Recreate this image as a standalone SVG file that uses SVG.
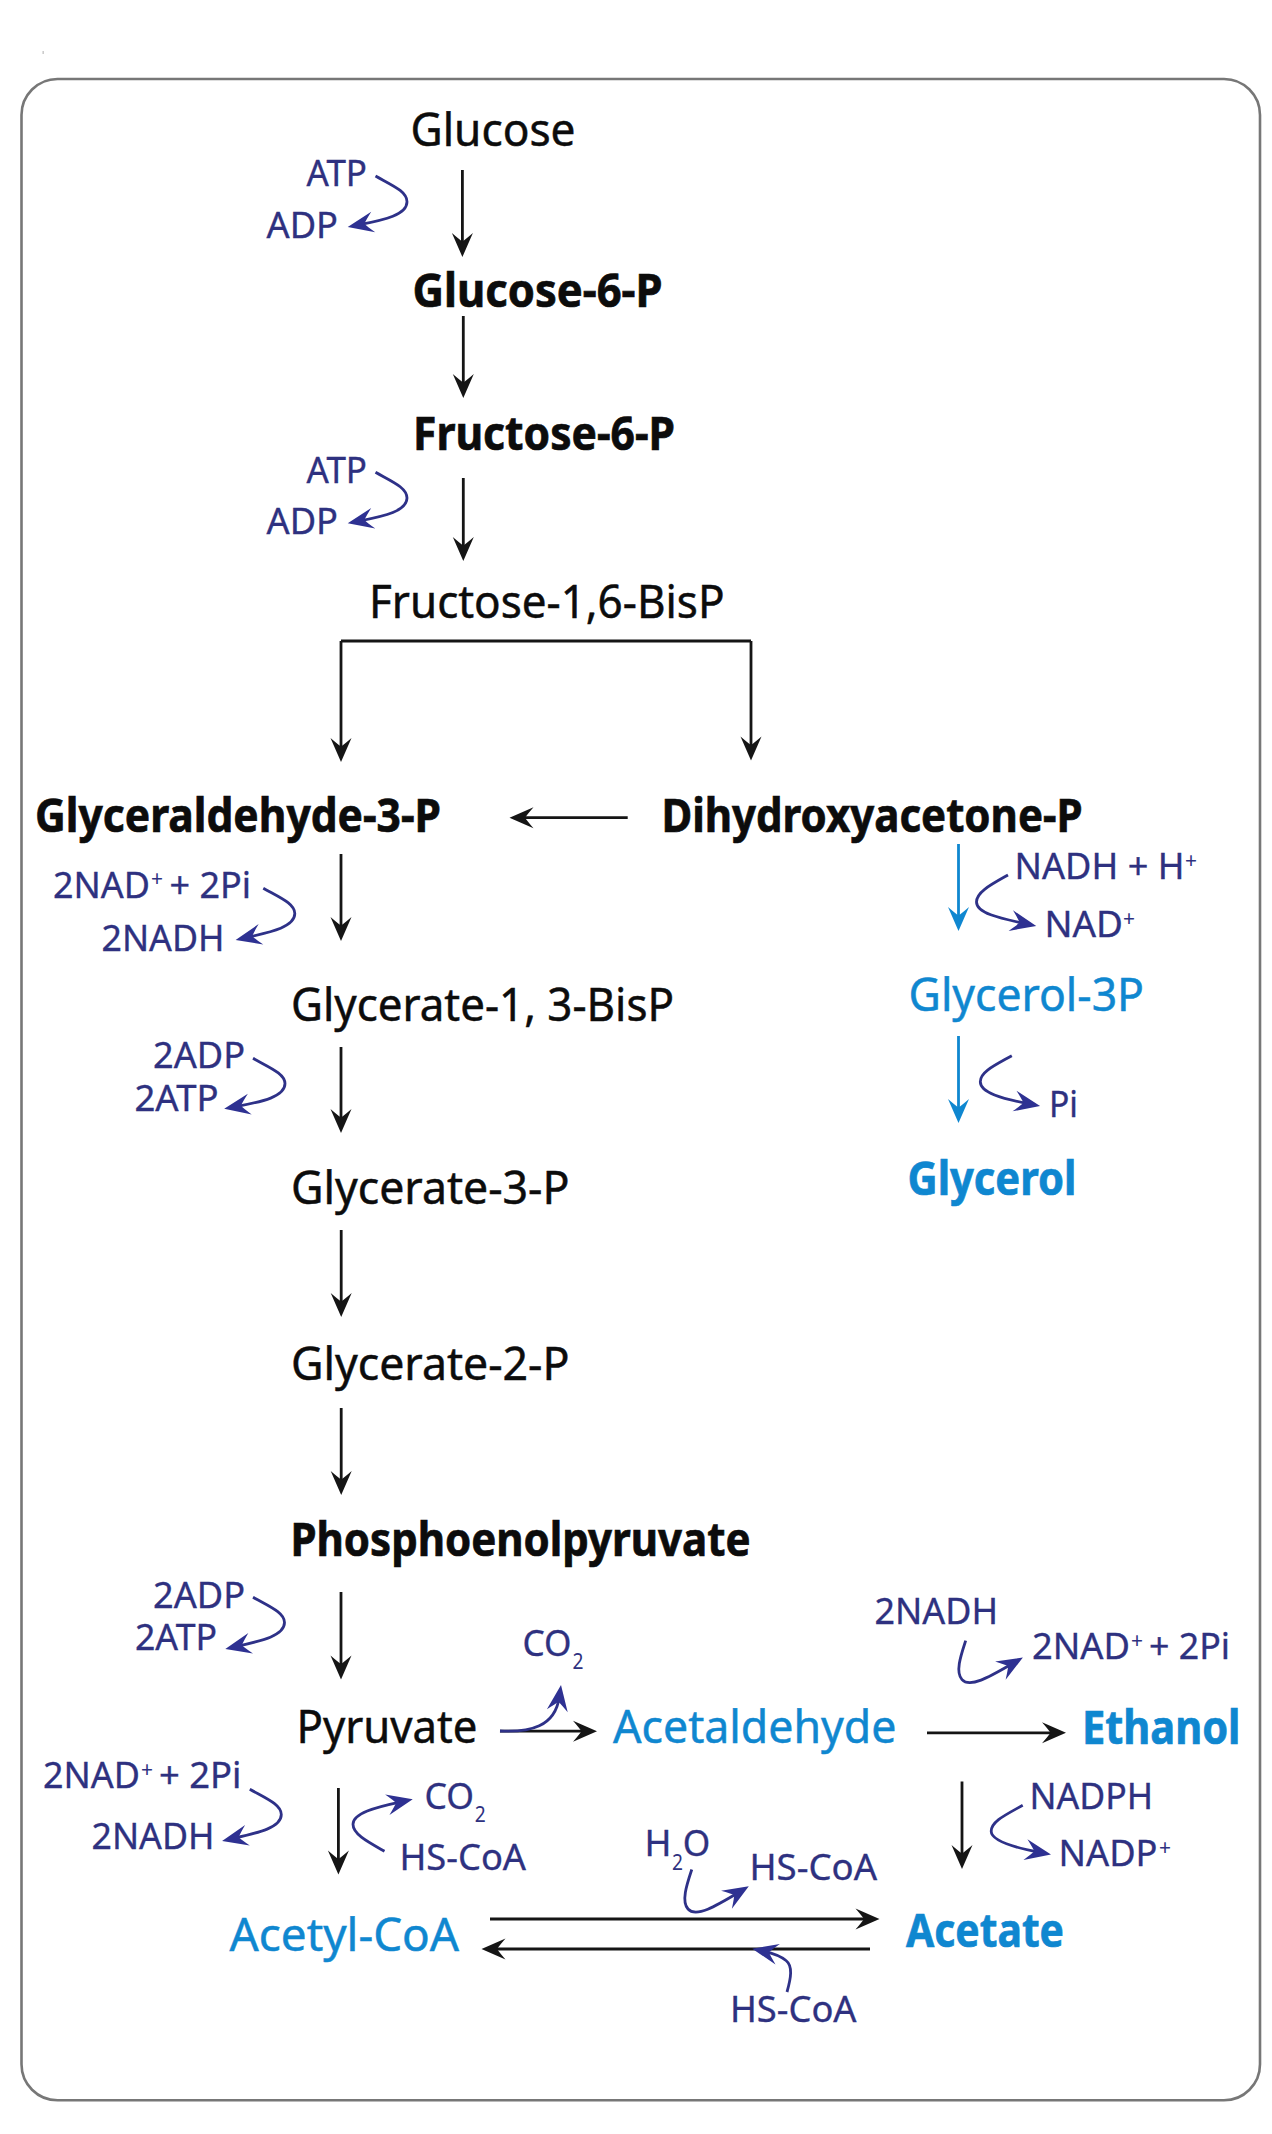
<svg xmlns="http://www.w3.org/2000/svg" width="1272" height="2134" viewBox="0 0 1272 2134">
<style>
text{font-family:"Noto Sans","Open Sans","Liberation Sans",sans-serif;}
.m{font-size:46px;fill:#0c0c0c;stroke:#0c0c0c;stroke-width:.5px}
.b{font-size:46px;font-weight:700;fill:#0c0c0c;stroke:#0c0c0c;stroke-width:.7px}
.c{font-size:46px;fill:#0f87d0;stroke:#0f87d0;stroke-width:.5px}
.cb{font-size:46px;font-weight:700;fill:#0f87d0;stroke:#0f87d0;stroke-width:.7px}
.s{font-size:37px;fill:#2e3180;stroke:#2e3180;stroke-width:.35px}
.u{font-size:22px;fill:#2e3180}
.k{fill:none;stroke:#151515;stroke-width:2.8;marker-end:url(#ak)}
.p{fill:none;stroke:#151515;stroke-width:2.8}
.l{fill:none;stroke:#0f87d0;stroke-width:2.8;marker-end:url(#al)}
.n{fill:none;stroke:#2e3188;stroke-width:2.8;marker-end:url(#an)}
</style>
<defs>
<marker id="ak" markerUnits="userSpaceOnUse" markerWidth="30" markerHeight="26" refX="14" refY="13" orient="auto"><path d="M26,13 L2,2.5 Q8.5,10 10.5,13 Q8.5,16 2,23.5 Z" fill="#151515"/></marker>
<marker id="al" markerUnits="userSpaceOnUse" markerWidth="30" markerHeight="26" refX="14" refY="13" orient="auto"><path d="M26,13 L2,2.5 Q8.5,10 10.5,13 Q8.5,16 2,23.5 Z" fill="#0f87d0"/></marker>
<marker id="an" markerUnits="userSpaceOnUse" markerWidth="32" markerHeight="26" refX="16" refY="13" orient="auto"><path d="M28,13 L2,2.5 Q9,10 11,13 Q9,16 2,23.5 Z" fill="#2e3192"/></marker>
</defs>
<rect width="1272" height="2134" fill="#fff"/>
<rect id="frame" x="21.5" y="79" width="1238.5" height="2021.3" rx="36" ry="36" fill="none" stroke="#777" stroke-width="2.6"/>
<rect x="42.7" y="51" width="0.8" height="3" fill="#999"/>
<g id="connectors">
<path class="k" d="M462.4,170V245"/>
<path class="k" d="M463.3,316V386"/>
<path class="k" d="M463.3,478V549"/>
<path class="p" d="M341,641H751"/>
<path class="k" d="M341,641V750"/>
<path class="k" d="M751,641V748.5"/>
<path class="k" d="M627.7,817.7H521.5"/>
<path class="k" d="M341,854V929"/>
<path class="k" d="M341,1047V1121"/>
<path class="k" d="M341.2,1230V1305"/>
<path class="k" d="M341.2,1408V1483"/>
<path class="k" d="M341,1592V1667.5"/>
<path class="k" d="M500,1731.2H585"/>
<path class="k" d="M338.4,1788V1862.5"/>
<path class="k" d="M490,1919H867.5"/>
<path class="k" d="M870,1949H493.5"/>
<path class="k" d="M927,1732.8H1054"/>
<path class="k" d="M962,1781.5V1857"/>
<path class="l" d="M958.5,844V919"/>
<path class="l" d="M958.5,1036V1111"/>
<path class="n" d="M375.5,176c16.5,9.3 31.5,15.3 31.5,25.7c0,13 -22,18 -47.5,23"/>
<path class="n" d="M375.5,472.3c16.5,9.3 31.5,15.3 31.5,25.7c0,13 -22,18 -47.5,23"/>
<path class="n" d="M263.3,888.3c16.5,9.3 31.5,15.3 31.5,25.3c0,13 -22,18 -47.5,23.8"/>
<path class="n" d="M253,1058.3c16.5,9.3 32,15.3 32,25.3c0,13 -22,18 -49,23"/>
<path class="n" d="M253,1597.3c16.5,9.3 31.5,15.3 31.5,25.3c0,13 -22,18 -47.5,23.8"/>
<path class="n" d="M249.8,1789.2c16.5,9.3 31.5,15.3 31.5,25.3c0,13 -22,18 -47.5,23.8"/>
<path class="n" d="M1008,875c-16.5,9.3 -31.5,17 -31.5,27c0,11 22,16 48,21.5"/>
<path class="n" d="M1011.8,1055.7c-16.5,9.3 -31.5,16 -31.5,26c0,11 22,17 48,22"/>
<path class="n" d="M1022.7,1805.3c-16.5,9.3 -31.5,16 -31.5,26c0,9 22,16 48,21"/>
<path class="n" d="M384.5,1851.3c-16.5,-9.3 -31.5,-17 -31.5,-27c0,-11 22,-17 48,-22.5"/>
<path class="n" d="M965.7,1640.6C961,1655 955,1672 962,1679.6C970,1688.6 990,1676.6 1012.5,1663.6"/>
<path class="n" d="M691.8,1869.5C687,1884 681,1901 688,1909C696,1918 716,1906 738.5,1892.5"/>
<path class="n" d="M787,1992C791,1978 793,1966 786,1960.5C780,1955.5 772,1953 764,1951.3"/>
<path class="n" d="M500,1731C530,1732.5 555,1727 559.3,1697"/>
</g>
<g id="glucose"><text class="m" x="410.5" y="146" textLength="165" lengthAdjust="spacingAndGlyphs">Glucose</text></g>
<g id="glucose-6-p"><text class="b" x="412.5" y="307" textLength="250" lengthAdjust="spacingAndGlyphs">Glucose-6-P</text></g>
<g id="fructose-6-p"><text class="b" x="413" y="450" textLength="262" lengthAdjust="spacingAndGlyphs">Fructose-6-P</text></g>
<g id="fructose-bisp"><text class="m" x="369" y="618" textLength="355.5" lengthAdjust="spacingAndGlyphs">Fructose-1,6-BisP</text></g>
<g id="glyceraldehyde-3-p"><text class="b" x="35" y="832" textLength="406" lengthAdjust="spacingAndGlyphs">Glyceraldehyde-3-P</text></g>
<g id="dihydroxyacetone-p"><text class="b" x="661.5" y="832" textLength="421" lengthAdjust="spacingAndGlyphs">Dihydroxyacetone-P</text></g>
<g id="glycerate-bisp"><text class="m" x="291" y="1020.7" textLength="383" lengthAdjust="spacingAndGlyphs">Glycerate-1, 3-BisP</text></g>
<g id="glycerate-3-p"><text class="m" x="291" y="1204" textLength="278.5" lengthAdjust="spacingAndGlyphs">Glycerate-3-P</text></g>
<g id="glycerate-2-p"><text class="m" x="291" y="1380" textLength="278.5" lengthAdjust="spacingAndGlyphs">Glycerate-2-P</text></g>
<g id="phosphoenolpyruvate"><text class="b" x="290.5" y="1556" textLength="460" lengthAdjust="spacingAndGlyphs">Phosphoenolpyruvate</text></g>
<g id="pyruvate"><text class="m" x="296.5" y="1743.2" textLength="181" lengthAdjust="spacingAndGlyphs">Pyruvate</text></g>
<g id="glycerol-3p"><text class="c" x="908.5" y="1010.7" textLength="235.5" lengthAdjust="spacingAndGlyphs">Glycerol-3P</text></g>
<g id="glycerol"><text class="cb" x="907.5" y="1195" textLength="169" lengthAdjust="spacingAndGlyphs">Glycerol</text></g>
<g id="acetaldehyde"><text class="c" x="613" y="1743.2" textLength="283.5" lengthAdjust="spacingAndGlyphs">Acetaldehyde</text></g>
<g id="ethanol"><text class="cb" x="1082" y="1743.7" textLength="158.5" lengthAdjust="spacingAndGlyphs">Ethanol</text></g>
<g id="acetyl-coa"><text class="c" x="229.6" y="1950.9" textLength="229.5" lengthAdjust="spacingAndGlyphs">Acetyl-CoA</text></g>
<g id="acetate"><text class="cb" x="906" y="1947.3" textLength="158" lengthAdjust="spacingAndGlyphs">Acetate</text></g>
<g id="cofactors">
<text class="s" x="306.5" y="186" textLength="60.5" lengthAdjust="spacingAndGlyphs">ATP</text>
<text class="s" x="266.5" y="238" textLength="71.5" lengthAdjust="spacingAndGlyphs">ADP</text>
<text class="s" x="306.5" y="482.7" textLength="60.5" lengthAdjust="spacingAndGlyphs">ATP</text>
<text class="s" x="266.5" y="534" textLength="71.5" lengthAdjust="spacingAndGlyphs">ADP</text>
<text class="s" x="53" y="897.7" textLength="97" lengthAdjust="spacingAndGlyphs">2NAD</text><text class="u" x="151" y="886" textLength="12" lengthAdjust="spacingAndGlyphs">+</text><text class="s" x="169.5" y="897.7" textLength="81.5" lengthAdjust="spacingAndGlyphs">+ 2Pi</text>
<text class="s" x="101.5" y="950.7" textLength="123" lengthAdjust="spacingAndGlyphs">2NADH</text>
<text class="s" x="153" y="1068" textLength="92" lengthAdjust="spacingAndGlyphs">2ADP</text>
<text class="s" x="134.5" y="1110.7" textLength="84" lengthAdjust="spacingAndGlyphs">2ATP</text>
<text class="s" x="1014.5" y="879" textLength="170" lengthAdjust="spacingAndGlyphs">NADH + H</text><text class="u" x="1185" y="868" textLength="12" lengthAdjust="spacingAndGlyphs">+</text>
<text class="s" x="1044.5" y="937" textLength="78.5" lengthAdjust="spacingAndGlyphs">NAD</text><text class="u" x="1123" y="926" textLength="12" lengthAdjust="spacingAndGlyphs">+</text>
<text class="s" x="1049" y="1117" textLength="29" lengthAdjust="spacingAndGlyphs">Pi</text>
<text class="s" x="153" y="1608" textLength="92" lengthAdjust="spacingAndGlyphs">2ADP</text>
<text class="s" x="135" y="1650" textLength="82" lengthAdjust="spacingAndGlyphs">2ATP</text>
<text class="s" x="522.5" y="1656.3" textLength="49" lengthAdjust="spacingAndGlyphs">CO</text><text class="u" x="572.6" y="1669.3" textLength="11" lengthAdjust="spacingAndGlyphs">2</text>
<text class="s" x="43" y="1787.8" textLength="97" lengthAdjust="spacingAndGlyphs">2NAD</text><text class="u" x="141" y="1777" textLength="12" lengthAdjust="spacingAndGlyphs">+</text><text class="s" x="159" y="1787.8" textLength="82.5" lengthAdjust="spacingAndGlyphs">+ 2Pi</text>
<text class="s" x="91.5" y="1848.5" textLength="123" lengthAdjust="spacingAndGlyphs">2NADH</text>
<text class="s" x="424.5" y="1809" textLength="49.5" lengthAdjust="spacingAndGlyphs">CO</text><text class="u" x="474.7" y="1822" textLength="11" lengthAdjust="spacingAndGlyphs">2</text>
<text class="s" x="399.5" y="1869.7" textLength="126.5" lengthAdjust="spacingAndGlyphs">HS-CoA</text>
<text class="s" x="874.5" y="1624.4" textLength="123.5" lengthAdjust="spacingAndGlyphs">2NADH</text>
<text class="s" x="1032" y="1658.6" textLength="98" lengthAdjust="spacingAndGlyphs">2NAD</text><text class="u" x="1131" y="1647.5" textLength="12" lengthAdjust="spacingAndGlyphs">+</text><text class="s" x="1149" y="1658.6" textLength="81" lengthAdjust="spacingAndGlyphs">+ 2Pi</text>
<text class="s" x="1029.5" y="1809" textLength="123.5" lengthAdjust="spacingAndGlyphs">NADPH</text>
<text class="s" x="1058.5" y="1865.7" textLength="99" lengthAdjust="spacingAndGlyphs">NADP</text><text class="u" x="1159" y="1855" textLength="12" lengthAdjust="spacingAndGlyphs">+</text>
<text class="s" x="644.5" y="1855.7" textLength="27" lengthAdjust="spacingAndGlyphs">H</text><text class="u" x="672" y="1869.5" textLength="11" lengthAdjust="spacingAndGlyphs">2</text><text class="s" x="682.7" y="1855.7" textLength="27.5" lengthAdjust="spacingAndGlyphs">O</text>
<text class="s" x="749.5" y="1879.7" textLength="127.5" lengthAdjust="spacingAndGlyphs">HS-CoA</text>
<text class="s" x="730" y="2021.7" textLength="126.5" lengthAdjust="spacingAndGlyphs">HS-CoA</text>
</g>
</svg>
